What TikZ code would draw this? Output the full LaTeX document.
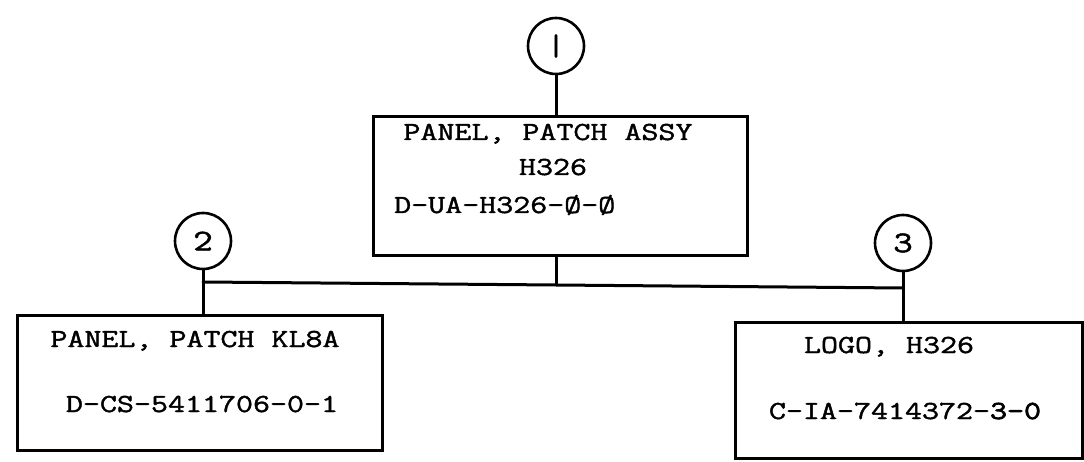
\documentclass[tikz,border=0pt]{standalone}
\usepackage{fontspec}
\newfontfamily\tw[FakeStretch=1.27,RawFeature={embolden=1.6}]{Latin Modern Mono}
\newfontfamily\twb[FakeStretch=1.27,RawFeature={embolden=2.8}]{Latin Modern Mono}
\begin{document}
\begin{tikzpicture}[x=1pt,y=-1pt,
  ln/.style={line width=3pt,line cap=round,line join=round},
  ref/.style={circle,draw,line width=2.6pt,minimum size=56pt,inner sep=0pt,font=\tw\fontsize{30}{30}\selectfont},
  part/.style={draw,line width=3pt,inner sep=0pt},
  txt/.style={inner sep=0pt,anchor=base,font=\tw\fontsize{26}{26}\selectfont}]
\useasboundingbox (0,0) rectangle (1084,462);
% reference circles
\node[ref] (c1) at (556,46) {|};
\node[ref] (c2) at (203,241) {2};
\node[ref] (c3) at (903,243) {3};
% boxes
\node[part,minimum width=374pt,minimum height=139pt] (b1) at (560,186.5) {};
\node[part,minimum width=365pt,minimum height=135pt] (b2) at (199.5,382.5) {};
\node[part,minimum width=347pt,minimum height=136pt] (b3) at (908.5,390) {};
% texts
\node[txt] (t1a) at (548,140) {PANEL, PATCH ASSY};
\node[txt] (t1b) at (553,175) {H326};
\node[txt,anchor=base west] (t1c) at (394,213) {D-UA-H326-Ø-Ø};
\node[txt] (t2a) at (195,347) {PANEL, PATCH KL8A};
\node[txt] (t2b) at (202,412) {D-CS-5411706-0-1};
\node[txt] (t3a) at (889,353) {LOGO, H326};
\node[txt] (t3b) at (905,419) {C-IA-7414372-{\twb 3-0}};
% junctions on the bus
\coordinate (j2) at (203,282);
\coordinate (j1) at (556,285);
\coordinate (j3) at (903,288);
% connectors
\draw[ln] (c1.south) -- (c1.south |- b1.north);
\draw[ln] (b1.south -| j1) -- (j1);
\draw[ln] (j2) -- (j1) -- (j3);
\draw[ln] (c2.south) -- (c2.south |- b2.north);
\draw[ln] (c3.south) -- (c3.south |- b3.north);
\end{tikzpicture}
\end{document}
